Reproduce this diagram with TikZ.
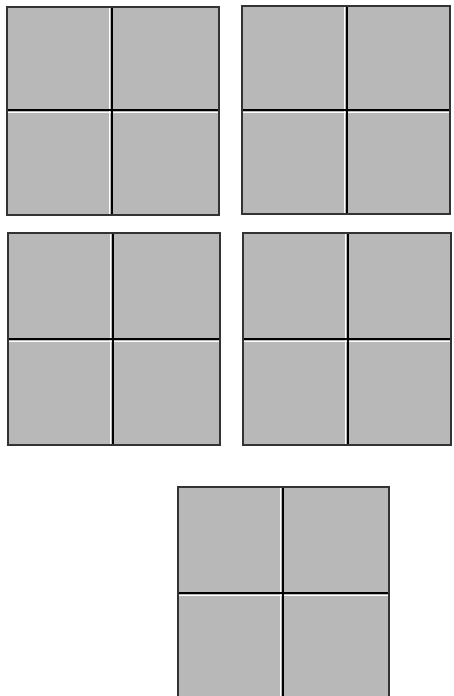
\documentclass[tikz,border=0pt]{standalone}
\begin{document}
\begin{tikzpicture}[x=1pt,y=-1pt,
  cellfill/.style={fill={rgb,255:red,184;green,184;blue,184}},
  gridline/.style={draw=black,line width=1.4pt},
  framebox/.style={draw=black!80,line width=1.2pt}]
\useasboundingbox (0,0) rectangle (453,696);
\clip (0,0) rectangle (453,696);
% grid(x0,y0,x1,y1,xm,ym)
\newcommand{\quadgrid}[6]{%
  \fill[cellfill] (#1,#2) rectangle (#3,#4);
  \draw[white,line width=1.2pt] (#5-2.2,#2) -- (#5-2.2,#4);
  \draw[white,line width=1.2pt] (#1,#6+2.2) -- (#3,#6+2.2);
  \draw[gridline] (#5,#2) -- (#5,#4);
  \draw[gridline] (#1,#6) -- (#3,#6);
  \draw[framebox] (#1,#2) rectangle (#3,#4);
}
\quadgrid{7}{7}{219}{215}{112}{110}
\quadgrid{242}{6}{450}{214}{347}{110}
\quadgrid{8}{233}{220}{445}{113}{339}
\quadgrid{243}{233}{451}{445}{348}{339}
\quadgrid{178}{487}{389}{699}{283}{593}
\end{tikzpicture}
\end{document}
